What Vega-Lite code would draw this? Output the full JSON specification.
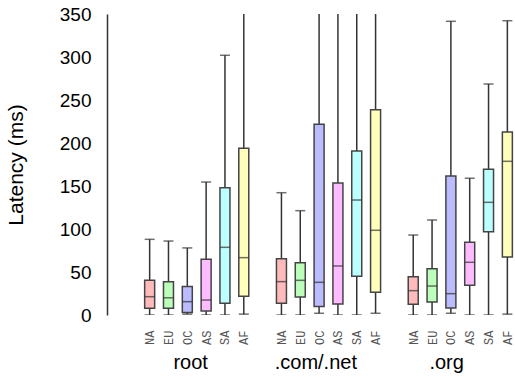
{
  "$schema": "https://vega.github.io/schema/vega-lite/v6.json",
  "width": 408,
  "height": 301,
  "autosize": {"type": "none"},
  "padding": {"left": 107, "top": 14, "right": 0, "bottom": 62},
  "background": "white",
  "config": {
    "view": {"stroke": null},
    "font": "Liberation Sans",
    "axis": {"grid": false},
    "axisY": {
      "values": [0, 50, 100, 150, 200, 250, 300, 350],
      "ticks": false,
      "labelPadding": 16,
      "labelFontSize": 19,
      "labelColor": "#000",
      "domainColor": "#333",
      "domainWidth": 1.5,
      "titleFontSize": 21,
      "titleFontWeight": "normal",
      "titleColor": "#000",
      "titlePadding": 33
    }
  },
  "data": {
    "values": [
      {"group": "root", "region": "NA", "slot": 0, "lo": 0, "q1": 7.8, "med": 21.3, "q3": 40.3, "hi": 88},
      {"group": "root", "region": "EU", "slot": 1, "lo": 0, "q1": 7.8, "med": 20, "q3": 38.8, "hi": 86},
      {"group": "root", "region": "OC", "slot": 2, "lo": 1, "q1": 3, "med": 15.5, "q3": 33, "hi": 78},
      {"group": "root", "region": "AS", "slot": 3, "lo": 0, "q1": 4.6, "med": 17.4, "q3": 64.7, "hi": 154.6},
      {"group": "root", "region": "SA", "slot": 4, "lo": 0, "q1": 13.6, "med": 78.7, "q3": 148, "hi": 302},
      {"group": "root", "region": "AF", "slot": 5, "lo": 1, "q1": 21.7, "med": 66.7, "q3": 193.8, "hi": 480},
      {"group": ".com/.net", "region": "NA", "slot": 7, "lo": 0, "q1": 13.6, "med": 38.8, "q3": 65.5, "hi": 142.2},
      {"group": ".com/.net", "region": "EU", "slot": 8, "lo": 0, "q1": 21, "med": 40.3, "q3": 60.8, "hi": 121.3},
      {"group": ".com/.net", "region": "OC", "slot": 9, "lo": 2, "q1": 10, "med": 38, "q3": 221.7, "hi": 500},
      {"group": ".com/.net", "region": "AS", "slot": 10, "lo": 0, "q1": 12.8, "med": 57, "q3": 153.5, "hi": 520},
      {"group": ".com/.net", "region": "SA", "slot": 11, "lo": 0, "q1": 45, "med": 133.7, "q3": 190.7, "hi": 540},
      {"group": ".com/.net", "region": "AF", "slot": 12, "lo": 2, "q1": 26.4, "med": 98.5, "q3": 238.8, "hi": 560},
      {"group": ".org", "region": "NA", "slot": 14, "lo": 0, "q1": 12.4, "med": 28.3, "q3": 44.6, "hi": 93},
      {"group": ".org", "region": "EU", "slot": 15, "lo": 0, "q1": 15.1, "med": 33.7, "q3": 53.9, "hi": 110.5},
      {"group": ".org", "region": "OC", "slot": 16, "lo": 2, "q1": 8.1, "med": 24.8, "q3": 161.6, "hi": 341.5},
      {"group": ".org", "region": "AS", "slot": 17, "lo": 0, "q1": 34.5, "med": 61.3, "q3": 84.5, "hi": 159},
      {"group": ".org", "region": "SA", "slot": 18, "lo": 0, "q1": 96.9, "med": 131, "q3": 169.4, "hi": 268.6},
      {"group": ".org", "region": "AF", "slot": 19, "lo": 1, "q1": 67.4, "med": 178.7, "q3": 212.8, "hi": 342.2}
    ]
  },
  "layer": [
    {
      "mark": {"type": "rule", "clip": true, "color": "#333", "strokeWidth": 1.5},
      "encoding": {
        "x": {
          "field": "slot", "type": "quantitative",
          "scale": {"domain": [-2, 19.14], "nice": false, "zero": false},
          "axis": {
            "orient": "bottom",
            "values": [0, 1, 2, 3, 4, 5, 7, 8, 9, 10, 11, 12, 14, 15, 16, 17, 18, 19],
            "labelExpr": "['NA','EU','OC','AS','SA','AF','',''][datum.value % 7]",
            "labelAngle": -90,
            "labelFont": "Liberation Mono",
            "labelFontSize": 12,
            "labelColor": "#555",
            "labelPadding": 15,
            "ticks": false,
            "domain": false,
            "title": null
          }
        },
        "y": {"field": "lo", "type": "quantitative", "scale": {"domain": [0, 350], "nice": false}, "title": "Latency (ms)"},
        "y2": {"field": "hi"}
      }
    },
    {
      "mark": {"type": "tick", "clip": true, "orient": "horizontal", "size": 10, "thickness": 1.5, "color": "#333"},
      "encoding": {
        "x": {"field": "slot", "type": "quantitative", "axis": null},
        "y": {"field": "hi", "type": "quantitative", "title": "Latency (ms)"}
      }
    },
    {
      "mark": {"type": "tick", "clip": true, "orient": "horizontal", "size": 10, "thickness": 1.5, "color": "#333"},
      "encoding": {
        "x": {"field": "slot", "type": "quantitative", "axis": null},
        "y": {"field": "lo", "type": "quantitative", "title": "Latency (ms)"}
      }
    },
    {
      "mark": {"type": "bar", "clip": true, "size": 10, "stroke": "#444", "strokeWidth": 1.5},
      "encoding": {
        "x": {"field": "slot", "type": "quantitative", "axis": null},
        "y": {"field": "q1", "type": "quantitative", "title": "Latency (ms)"},
        "y2": {"field": "q3"},
        "fill": {
          "field": "region", "type": "nominal",
          "scale": {"domain": ["NA", "EU", "OC", "AS", "SA", "AF"], "range": ["#ffbbbb", "#bbffbb", "#bbbbff", "#ffbbff", "#bbffff", "#ffffbb"]},
          "legend": null
        }
      }
    },
    {
      "mark": {"type": "tick", "clip": true, "orient": "horizontal", "size": 10, "thickness": 1.5, "color": "#333"},
      "encoding": {
        "x": {
          "field": "slot", "type": "quantitative",
          "axis": {
            "orient": "bottom",
            "values": [2.15, 8.8, 15.75],
            "labelExpr": "datum.value < 5 ? 'root' : datum.value < 12 ? '.com/.net' : '.org'",
            "labelFontSize": 20,
            "labelColor": "#000",
            "labelPadding": 37,
            "ticks": false,
            "domain": false,
            "title": null
          }
        },
        "y": {"field": "med", "type": "quantitative", "title": "Latency (ms)"}
      }
    }
  ],
  "resolve": {"axis": {"x": "independent"}}
}
